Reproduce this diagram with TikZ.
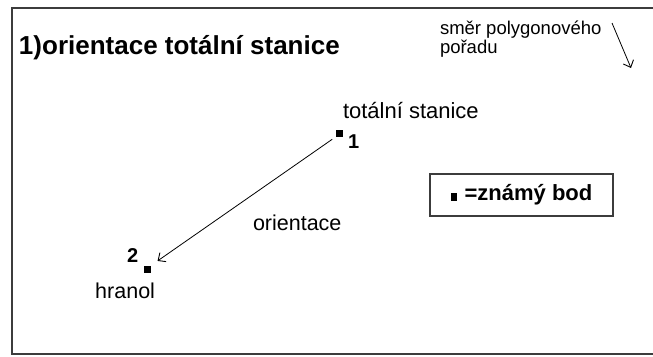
\documentclass[tikz,border=0pt]{standalone}
\usepackage{fontspec}
\setmainfont{Liberation Sans}
\usetikzlibrary{arrows.meta}
\definecolor{framegray}{HTML}{3C3C3C}
\begin{document}
\begin{tikzpicture}[x=1pt,y=-1pt,
  txt/.style={inner sep=0pt,outer sep=0pt},
  pt/.style={fill=black,inner sep=0pt,minimum size=7pt,outer sep=0pt},
  conn/.style={draw=black,line width=0.8pt,-{Straight Barb[length=6pt,width=11pt,line width=0.9pt]}},
  legendbox/.style={draw=framegray,line width=1.6pt,minimum width=183pt,minimum height=42pt,inner sep=0pt,font=\bfseries\fontsize{22}{24}\selectfont}
]
\useasboundingbox (0,0) rectangle (653,356);
\fill[white] (0,0) rectangle (653,356);
\begin{scope}
\clip (0,0) rectangle (653,356);
\draw[framegray,line width=2.4pt] (12,8) rectangle (670,354);
\end{scope}

% title
\node[txt,anchor=base west,font=\bfseries\fontsize{26}{30}\selectfont] (title) at (19,54) {1)orientace totální stanice};

% direction note
\node[txt,anchor=base west,font=\fontsize{18.5}{20}\selectfont] (dir1) at (440,34) {směr polygonového};
\node[txt,anchor=base west,font=\fontsize{18.5}{20}\selectfont] (dir2) at (440,53) {pořadu};
\coordinate (da) at (612,23);
\coordinate (db) at (631,68);
\draw[conn] (da) -- (db);

% points
\node[pt] (p1) at (339,133.5) {};
\node[pt] (p2) at (147.5,269) {};
\node[txt,anchor=base west,font=\bfseries\fontsize{20}{22}\selectfont] (n1) at (348,148) {1};
\node[txt,anchor=base west,font=\bfseries\fontsize{20}{22}\selectfont] (n2) at (127,262) {2};
\node[txt,anchor=base west,font=\fontsize{22}{24}\selectfont] (ts) at (343,118) {totální stanice};
\node[txt,anchor=base east,font=\fontsize{21.5}{24}\selectfont] (hr) at (155,298) {hranol};
\node[txt,anchor=base west,font=\fontsize{21.5}{24}\selectfont] (or) at (253,230) {orientace};

\draw[conn,shorten <=4pt,shorten >=8pt] (p1.south west) -- (p2.north east);

% legend
\node[legendbox] (leg) at (521.5,195) {\rule{6pt}{7.5pt}\hspace{8pt}=známý bod};
\end{tikzpicture}
\end{document}
